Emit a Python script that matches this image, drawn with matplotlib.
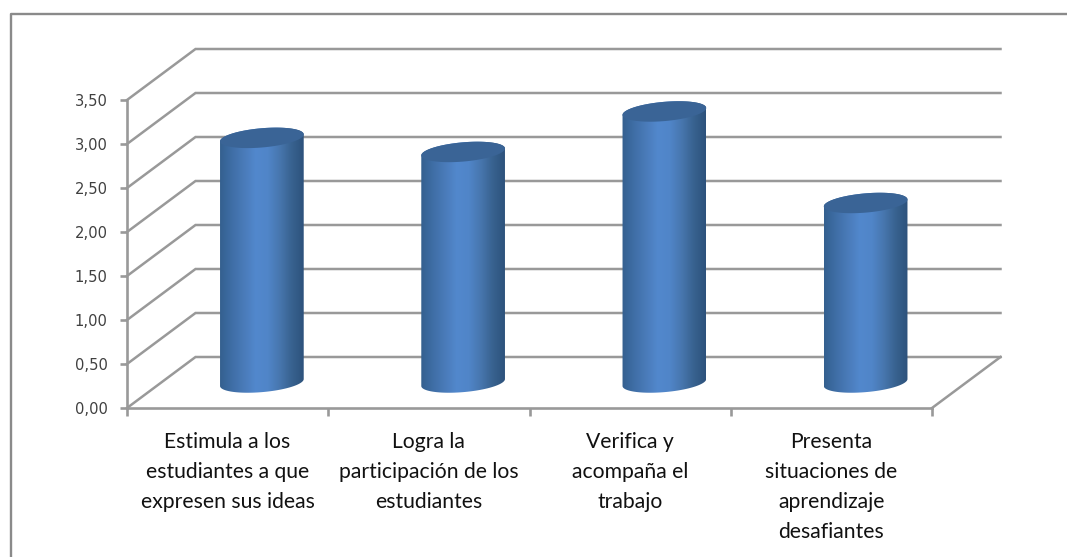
import numpy as np
import matplotlib
matplotlib.use("Agg")
import matplotlib.pyplot as plt
from matplotlib.colors import LinearSegmentedColormap
from matplotlib.lines import Line2D
from matplotlib.patches import PathPatch, Polygon
from matplotlib.path import Path

# Chart data
categories = [
    "Estimula a los\nestudiantes a que\nexpresen sus ideas",
    "Logra la\nparticipación de los\nestudiantes",
    "Verifica y\nacompaña el\ntrabajo",
    "Presenta\nsituaciones de\naprendizaje\ndesafiantes",
]
values = [2.78, 2.62, 3.08, 2.04]
y_ticks = [0.0, 0.5, 1.0, 1.5, 2.0, 2.5, 3.0, 3.5]
y_tick_labels = ["0,00", "0,50", "1,00", "1,50", "2,00", "2,50", "3,00", "3,50"]

W, H = 1067, 557
GREY = "#999999"

fig = plt.figure(figsize=(W / 100, H / 100), dpi=100, facecolor="white")

# Outer chart frame: only the top and left edges fall inside the canvas
fig.add_artist(Line2D([10.5 / W, 10.5 / W, 1], [0, 1 - 13.5 / H, 1 - 13.5 / H],
                      color="#8a8a8a", lw=1.7, transform=fig.transFigure))

# Front plane of the 3-D plot box
left, right, bottom, top = 127.0, 932.0, 408.0, 100.0
ax = fig.add_axes([left / W, 1 - bottom / H, (right - left) / W, (bottom - top) / H])
ax.patch.set_visible(False)
ax.set_xlim(-0.5, 3.5)
ax.set_ylim(0, 3.5)
sx = (right - left) / 4      # pixels per category
sy = (bottom - top) / 3.5    # pixels per value unit
dx, dy = 68.5 / sx, 51.0 / sy  # depth of the box in data units

for s in ("top", "right"):
    ax.spines[s].set_visible(False)
for s in ("left", "bottom"):
    ax.spines[s].set_color(GREY)
    ax.spines[s].set_linewidth(1.9)

ax.set_yticks(y_ticks, y_tick_labels, family="DejaVu Sans", fontsize=10.6, color="#404040")
ax.tick_params(axis="y", length=5, width=1.9, color=GREY, pad=9)
ax.set_xticks(np.arange(-0.5, 4.0, 1.0), [""] * 5)
ax.tick_params(axis="x", which="major", length=6, width=1.9, color=GREY)
ax.set_xticks(np.arange(len(categories)), categories, minor=True,
              family="Lato", fontsize=15.2, color="#111111", linespacing=1.64,
              va="top")
ax.tick_params(axis="x", which="minor", length=0, pad=17)

# Side and back-wall gridlines, plus the floor outline
for y in y_ticks:
    ax.plot([-0.5, -0.5 + dx, 3.5 + dx], [y, y + dy, y + dy], color=GREY, lw=1.8,
            clip_on=False, solid_joinstyle="miter", zorder=1)
ax.plot([3.5, 3.5 + dx], [0, dy], color=GREY, lw=1.8, clip_on=False, zorder=1)

body_cmap = LinearSegmentedColormap.from_list(
    "body", ["#34608f", "#3f6ea6", "#4a7bb9", "#5288cd", "#5085c8", "#4776ae", "#38628f", "#2d527c"])

RX, RY, TILT = 42.0, 9.6, np.deg2rad(5.0)


def ring(cx, cy, t):
    """Points on the tilted cylinder ellipse, converted from pixel radii to data units."""
    px = RX * np.cos(t) * np.cos(TILT) - RY * np.sin(t) * np.sin(TILT)
    py = RX * np.cos(t) * np.sin(TILT) + RY * np.sin(t) * np.cos(TILT)
    return np.column_stack([cx + px / sx, cy + py / sy])


for i, v in enumerate(values):
    cx = i + dx / 2
    base = dy / 2
    # Silhouette: lower half of the base ellipse, then the upper half at the top
    t_low = np.linspace(np.pi, 2 * np.pi, 60)
    t_up = np.linspace(0, np.pi, 60)
    outline = np.vstack([ring(cx, base, t_low), ring(cx, base + v, t_up)])
    clip = PathPatch(Path(np.vstack([outline, outline[:1]])), transform=ax.transData,
                     fc="none", ec="none")
    ax.add_patch(clip)
    grad = np.linspace(0, 1, 256).reshape(1, -1)
    im = ax.imshow(grad, cmap=body_cmap, aspect="auto", zorder=3, interpolation="bilinear",
                   extent=[cx - RX / sx, cx + RX / sx, base - 0.3, base + v + 0.3])
    im.set_clip_path(clip)
    cap = Polygon(ring(cx, base + v, np.linspace(0, 2 * np.pi, 120)), closed=True,
                  fc="#3a6496", ec="none", zorder=4, clip_on=False)
    ax.add_patch(cap)

ax.set_xlim(-0.5, 3.5)
ax.set_ylim(0, 3.5)

fig.savefig("out.png", dpi=100, facecolor="white")
